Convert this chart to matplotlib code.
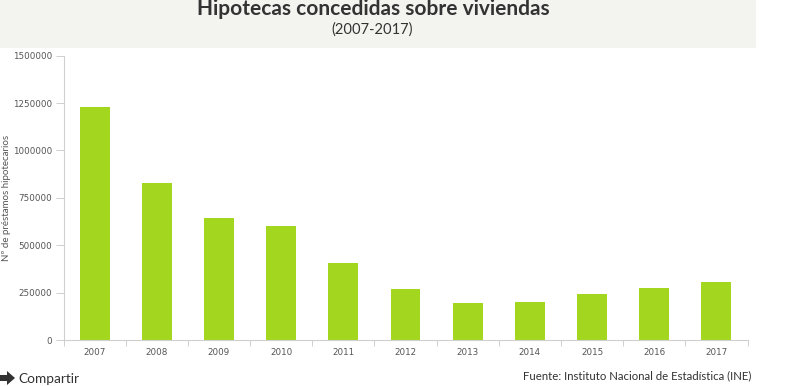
import matplotlib
matplotlib.use("Agg")
import matplotlib.pyplot as plt
from matplotlib.patches import Rectangle, Polygon

years = ["2007", "2008", "2009", "2010", "2011", "2012", "2013", "2014", "2015", "2016", "2017"]
prestamos = [1231000, 829000, 644000, 602000, 406000, 271000, 196000, 200000, 243000, 275000, 306000]
yticks = [0, 250000, 500000, 750000, 1000000, 1250000, 1500000]

title = "Hipotecas concedidas sobre viviendas"
subtitle = "(2007-2017)"
ylabel = "Nº de préstamos hipotecarios"
source = "Fuente: Instituto Nacional de Estadística (INE)"
share = "Compartir"

W, H = 800, 386
fig = plt.figure(figsize=(W / 100, H / 100), dpi=100)
fig.patch.set_facecolor("white")

def fx(px):
    return px / W

def fy(py):
    return 1 - py / H

# header band
fig.patches.append(Rectangle((0, fy(48)), fx(756), 48 / H, transform=fig.transFigure,
                             facecolor="#f3f3ef", edgecolor="none", zorder=0))
fig.text(fx(373), fy(15), title, ha="center", va="baseline", fontsize=15,
         fontweight="bold", color="#333333", family="Lato")
fig.text(fx(372), fy(30), subtitle, ha="center", va="center", fontsize=10.6,
         color="#333333", family="Lato")

left, right, top, bottom = 63.5, 747.5, 55.7, 340
ax = fig.add_axes([fx(left), fy(bottom), fx(right - left), (bottom - top) / H])
x = list(range(len(years)))
ax.bar(x, prestamos, width=0.48, color="#a3d71f", zorder=2)
ax.set_xlim(-0.5, len(years) - 0.5)
ax.set_ylim(0, 1500000)

for s in ["top", "right"]:
    ax.spines[s].set_visible(False)
for s in ["left", "bottom"]:
    ax.spines[s].set_color("#cfcfcf")
    ax.spines[s].set_linewidth(0.8)

ax.set_yticks(yticks)
ax.set_yticklabels([str(v) for v in yticks])
ax.tick_params(axis="y", length=6, width=0.7, color="#cfcfcf", labelsize=6.3, labelcolor="#555555", pad=2)

ax.set_xticks(x)
ax.set_xticklabels(years)
ax.tick_params(axis="x", length=0, labelsize=6.3, labelcolor="#555555", pad=5.5)
ax.set_xticks([i - 0.5 for i in range(len(years) + 1)], minor=True)
ax.tick_params(axis="x", which="minor", length=4.5, width=0.7, color="#cfcfcf")

fig.text(fx(7), fy(198), ylabel, rotation=90, ha="center", va="center", fontsize=7,
         color="#555555", family="Lato")

# footer
fig.patches.append(Polygon([(fx(0), fy(375)), (fx(7), fy(375)), (fx(7), fy(371)),
                            (fx(15), fy(378)), (fx(7), fy(385)), (fx(7), fy(381)),
                            (fx(0), fy(381))], closed=True, transform=fig.transFigure,
                           facecolor="#333333", edgecolor="none"))
fig.text(fx(18), fy(379), share, ha="left", va="center", fontsize=9.8, color="#333333", family="Lato")
fig.text(fx(751), fy(376), source, ha="right", va="center", fontsize=8.2, color="#333333", family="Lato")

fig.savefig("out.png", dpi=100)
